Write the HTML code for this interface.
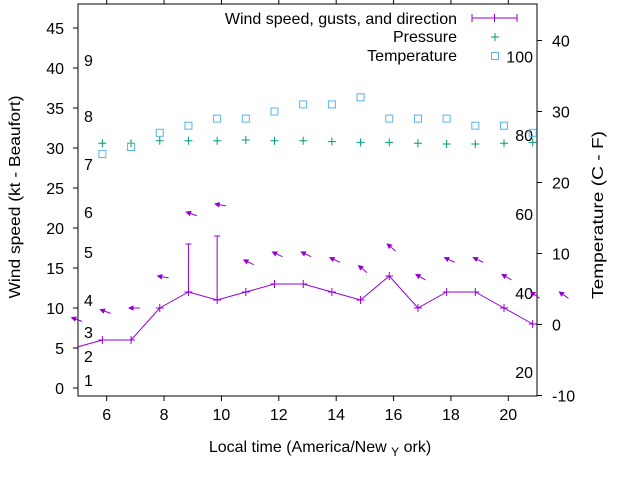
<!DOCTYPE html>
<html><head><meta charset="utf-8"><style>
html,body{margin:0;padding:0;background:#fff;}
svg{display:block;font-family:"Liberation Sans",sans-serif;}
</style></head><body>
<svg id="chart" width="640" height="480" viewBox="0 0 640 480" xmlns="http://www.w3.org/2000/svg"></svg>
<script>
const hours = [4.85,5.85,6.85,7.85,8.85,9.85,10.85,11.85,12.85,13.85,14.85,15.85,16.85,17.85,18.85,19.85,20.85];
const windSpeed = [5,6,6,10,12,11,12,13,13,12,11,14,10,12,12,10,8];
const gustHours = [8.85,9.85];
const gustValues = [18,19];
const arrowHours = [4.85,5.85,6.85,7.85,8.85,9.85,10.85,11.85,12.85,13.85,14.85,15.85,16.85,17.85,18.85,19.85,20.85,21.85];
const arrowValues = [8.8,9.8,10,14,22,23,16,17,17,16.3,15.3,18,14.2,16.3,16.3,14.2,12,12];
const arrowDirs = [20,20,0,10,20,10,25,25,25,25,40,40,30,25,25,30,35,35];
const pressHours = [5.85,6.85,7.85,8.85,9.85,10.85,11.85,12.85,13.85,14.85,15.85,16.85,17.85,18.85,19.85,20.85];
const pressure = [30.6,30.6,30.9,30.9,30.9,31.0,30.9,30.9,30.8,30.7,30.7,30.6,30.5,30.5,30.6,30.7];
const tempHours = [5.85,6.85,7.85,8.85,9.85,10.85,11.85,12.85,13.85,14.85,15.85,16.85,17.85,18.85,19.85,20.85];
const temps = [24,25,27,28,29,29,30,31,31,32,29,29,29,28,28,27];
const xTicks = [6,8,10,12,14,16,18,20];
const yTicks = [0,5,10,15,20,25,30,35,40,45];
const y2Ticks = [-10,0,10,20,30,40];
const fLabels = [20,40,60,80,100];
const beaufort = [1,2,3,4,5,6,7,8,9];
const beaufortKt = [1,4,7,11,17,22,28,34,41];

const L=78,R=537,T=4,B=396;
const FS=16;
const x=h=>L+(h-5)*(R-L)/16;
const y=v=>388-8*v;
const y2=c=>324.5-7.1*c;
const NS="http://www.w3.org/2000/svg";
const svg=document.getElementById('chart');
function el(tag,attrs,parent){const e=document.createElementNS(NS,tag);for(const k in attrs)e.setAttribute(k,attrs[k]);(parent||svg).appendChild(e);return e;}
function txt(s,attrs,parent){const e=el('text',attrs,parent);e.textContent=s;return e;}
const P='#9400d3';

const clip=el('clipPath',{id:'pc'});el('rect',{x:L,y:T,width:R-L,height:B-T},clip);

const frame=el('rect',{x:L,y:T,width:R-L,height:B-T,fill:'none',stroke:'#000','stroke-width':1});


xTicks.forEach(t=>{
  el('line',{x1:x(t),x2:x(t),y1:B,y2:B+5,stroke:'#000'});
  el('line',{x1:x(t),x2:x(t),y1:T,y2:T-5,stroke:'#000'});
  const l=txt(t,{x:x(t),y:B+24,'text-anchor':'middle','font-size':FS});
  
});
yTicks.forEach(t=>{
  el('line',{x1:L-5,x2:L,y1:y(t),y2:y(t),stroke:'#000'});
  const l=txt(t,{x:L-14,y:y(t)+6,'text-anchor':'end','font-size':FS});
  
});
y2Ticks.forEach(t=>{
  el('line',{x1:R,x2:R+5,y1:y2(t),y2:y2(t),stroke:'#000'});
  const l=txt(t,{x:R+15,y:y2(t)+6,'text-anchor':'start','font-size':FS});
  
});
fLabels.forEach(f=>{
  const c=(f-32)*5/9;
  const l=txt(f,{x:533,y:y2(c)+6,'text-anchor':'end','font-size':FS});
  
});
beaufort.forEach((b,i)=>{
  const l=txt(b,{x:84,y:y(beaufortKt[i])+6,'font-size':FS});
  
});

const g=el('g',{'clip-path':'url(#pc)'});
pressHours.forEach((h,i)=>{
  const px=x(h),py=y(pressure[i]);
  const m=el('path',{d:`M${px-4} ${py}H${px+4}M${px} ${py-4}V${py+4}`,stroke:'#009e73','stroke-width':1},g);
  
});
tempHours.forEach((h,i)=>{
  const m=el('rect',{x:x(h)-3.5,y:y2(temps[i])-3.5,width:7,height:7,fill:'none',stroke:'#56b4e9','stroke-width':1},g);
  
});
const wl=el('polyline',{points:hours.map((h,i)=>x(h)+','+y(windSpeed[i])).join(' '),fill:'none',stroke:P,'stroke-width':1},g);

hours.forEach((h,i)=>{
  const px=x(h),py=y(windSpeed[i]);
  const m=el('path',{d:`M${px-4} ${py}H${px+4}M${px} ${py-4}V${py+4}`,stroke:P},g);
  
});
gustHours.forEach((h,i)=>{
  const gi=hours.indexOf(h);const px=x(h);
  const m=el('path',{d:`M${px} ${y(windSpeed[gi])}V${y(gustValues[i])}M${px-3} ${y(gustValues[i])}H${px+3}`,stroke:P},g);
  
});
arrowHours.forEach((h,i)=>{
  const hx=x(h)-2,hy=y(arrowValues[i]);
  const a=arrowDirs[i]*Math.PI/180;
  const ux=Math.cos(a),uy=Math.sin(a);
  const tx=hx+11*ux,ty=hy+11*uy;
  const bx=hx+4*ux,by=hy+4*uy;
  const m=el('g',{});
  
  el('line',{x1:tx,y1:ty,x2:hx,y2:hy,stroke:P},m);
  el('polygon',{points:`${hx},${hy} ${bx-2*uy},${by+2*ux} ${bx+2*uy},${by-2*ux}`,fill:P,stroke:P,'stroke-width':1},m);
});

const lg=el('g',{});
txt('Wind speed, gusts, and direction',{x:457,y:24,'text-anchor':'end','font-size':FS},lg);
txt('Pressure',{x:457,y:42,'text-anchor':'end','font-size':FS},lg);
txt('Temperature',{x:457,y:61,'text-anchor':'end','font-size':FS},lg);
el('path',{d:'M472 18H517M472 14V22M517 14V22M494.5 14V22',stroke:P},lg);
el('path',{d:'M491 37H499M495 33V41',stroke:'#009e73'},lg);
el('rect',{x:491.5,y:52.5,width:7,height:7,fill:'none',stroke:'#56b4e9'},lg);

const xl=txt('',{x:320,y:452,'text-anchor':'middle','font-size':FS});

const t0=el('tspan',{},xl);t0.textContent='Local time (America/New ';
const t1=el('tspan',{'font-size':12,dy:4},xl);t1.textContent='Y';
const t2=el('tspan',{dy:-4},xl);t2.textContent=' ork)';
const yl=txt('Wind speed (kt - Beaufort)',{x:0,y:0,'text-anchor':'middle','font-size':FS,textLength:203,lengthAdjust:'spacingAndGlyphs',transform:'translate(20,197) rotate(-90)'});

const y2l=txt('Temperature (C - F)',{x:0,y:0,'text-anchor':'middle','font-size':FS,textLength:168,lengthAdjust:'spacingAndGlyphs',transform:'translate(603,215) rotate(-90)'});

</script>
</body></html>
